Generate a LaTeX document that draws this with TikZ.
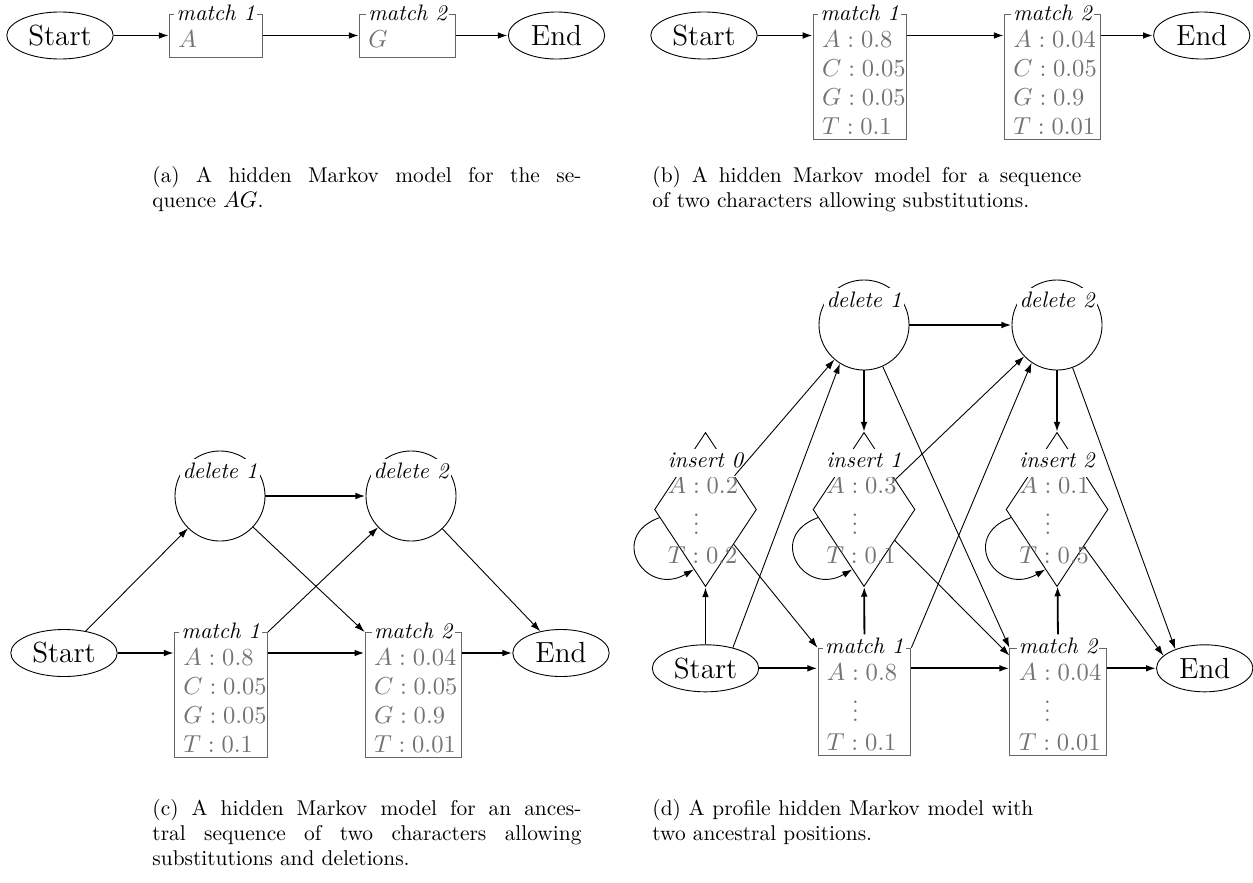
\documentclass[tikz,border=0pt]{standalone}
\usepackage{tikz}
\usetikzlibrary{shapes.geometric,arrows.meta}
\tikzset{
  >={Latex[length=4.5pt,width=3pt]},
  term/.style={ellipse, draw, font=\fontsize{13}{15}\selectfont, minimum height=21pt, inner sep=2pt},
  matchbox/.style={rectangle, draw=black!60, text=black!55, anchor=north west, align=left,
    text width=33.5pt, inner xsep=4pt, inner ysep=2pt, font=\fontsize{10.6}{13}\selectfont},
  delbox/.style={circle, draw, minimum size=40.2pt, inner sep=0pt},
  insbox/.style={diamond, draw, minimum width=45.5pt, minimum height=68.8pt, inner sep=0pt},
  lbl/.style={fill=white, inner xsep=1pt, inner ysep=1.5pt, font=\itshape},
  emit/.style={text=black!55, align=left, inner sep=0pt, anchor=north west,
    font=\fontsize{10.6}{13}\selectfont},
  capt/.style={anchor=north west, inner sep=0pt, text width=191.5pt, align=justify,
    font=\fontsize{9.55}{11.2}\selectfont},
  tr/.style={->},
  main/.style={->, thick},
}
\newcommand{\strt}{\rule{0pt}{12.6pt}}
\newcommand{\vd}{$\phantom{A}\mathrel{\vdots}$}
\begin{document}
\begin{tikzpicture}[x=0.4464pt, y=-0.4464pt]
  \useasboundingbox (0,0) rectangle (1253,882);
  %(a)
  \node[term, minimum width=47.5pt] (sa) at (60,35.5) {Start};
  \node[matchbox, text depth=2.5pt] (m1a) at (169,14) {\strt$A$};
  \node[matchbox, text depth=2.5pt, text width=35pt] (m2a) at (359,14) {\strt$G$};
  \node[term, minimum width=43pt] (ea) at (556.5,35.5) {End};
  \node[lbl, anchor=base] (l1a) at ([yshift=-2.7pt]m1a.north) {match 1};
  \node[lbl, anchor=base] (l2a) at ([yshift=-2.7pt]m2a.north) {match 2};
  \draw[main] (sa) -- (sa -| m1a.west);
  \draw[main] (m1a.east |- sa) -- (m2a.west |- sa);
  \draw[main] (m2a.east |- sa) -- (ea);
  \node[capt] (ca) at (152,166) {(a) A hidden Markov model for the se-\linebreak quence $AG$.};
  %(b)
  \node[term, minimum width=47.5pt] (sb) at (704,35.5) {Start};
  \node[matchbox] (m1b) at (812.8,14) {\strt${A:0.8}$\\${C:0.05}$\\${G:0.05}$\\${T:0.1}$};
  \node[matchbox, text width=35pt] (m2b) at (1004,14) {\strt${A:0.04}$\\${C:0.05}$\\${G:0.9}$\\${T:0.01}$};
  \node[term, minimum width=43pt] (eb) at (1201.7,35.5) {End};
  \node[lbl, anchor=base] (l1b) at ([yshift=-2.7pt]m1b.north) {match 1};
  \node[lbl, anchor=base] (l2b) at ([yshift=-2.7pt]m2b.north) {match 2};
  \draw[main] (sb) -- (sb -| m1b.west);
  \draw[main] (m1b.east |- sb) -- (m2b.west |- sb);
  \draw[main] (m2b.east |- sb) -- (eb);
  \node[capt] (cb) at (652,166) {(b) A hidden Markov model for a sequence\linebreak of two characters allowing substitutions.};
  %(c)
  \node[term, minimum width=47.5pt] (sc) at (64,653) {Start};
  \node[matchbox] (m1c) at (174,632) {\strt${A:0.8}$\\${C:0.05}$\\${G:0.05}$\\${T:0.1}$};
  \node[matchbox, text width=35pt] (m2c) at (364.6,632) {\strt${A:0.04}$\\${C:0.05}$\\${G:0.9}$\\${T:0.01}$};
  \node[term, minimum width=43pt] (ec) at (561,653) {End};
  \node[delbox] (d1c) at (220,496) {};
  \node[delbox] (d2c) at (411,496) {};
  \node[lbl, anchor=base] (l1c) at ([yshift=-2.7pt]m1c.north) {match 1};
  \node[lbl, anchor=base] (l2c) at ([yshift=-2.7pt]m2c.north) {match 2};
  \node[lbl, anchor=base] (k1c) at ([yshift=7.9pt]d1c.center) {delete 1};
  \node[lbl, anchor=base] (k2c) at ([yshift=7.9pt]d2c.center) {delete 2};
  \draw[main] (sc) -- (sc -| m1c.west);
  \draw[main] (m1c.east |- sc) -- (m2c.west |- sc);
  \draw[main] (m2c.east |- sc) -- (ec);
  \draw[main] (d1c) -- (d2c);
  \draw[tr] (sc) -- (d1c);
  \draw[tr] (d1c) -- (m2c.north west);
  \draw[tr] (m1c.north east) -- (d2c);
  \draw[tr] (d2c) -- (ec);
  \node[capt] (cc) at (152,798.5) {(c) A hidden Markov model for an ances-\linebreak tral sequence of two characters allowing\linebreak substitutions and deletions.};
  %(d)
  \node[term, minimum width=47.5pt] (sd) at (705.5,668.3) {Start};
  \node[matchbox] (m1d) at (817.5,647.7) {\strt${A:0.8}$\\[2pt]\vd\\${T:0.1}$};
  \node[matchbox, text width=35pt] (m2d) at (1009.4,647.7) {\strt${A:0.04}$\\[2pt]\vd\\${T:0.01}$};
  \node[term, minimum width=43pt] (ed) at (1204.7,668.3) {End};
  \node[delbox] (d1d) at (864,325) {};
  \node[delbox] (d2d) at (1057,325) {};
  \node[insbox] (i0) at (705.5,509.5) {};
  \node[insbox] (i1) at (864,509.5) {};
  \node[insbox] (i2) at (1057,509.5) {};
  \node[emit] (e0) at ([xshift=-17pt,yshift=14.8pt]i0.center) {${A:0.2}$\\[2pt]\vd\\${T:0.2}$};
  \node[emit] (e1) at ([xshift=-17pt,yshift=14.8pt]i1.center) {${A:0.3}$\\[2pt]\vd\\${T:0.1}$};
  \node[emit] (e2) at ([xshift=-17pt,yshift=14.8pt]i2.center) {${A:0.1}$\\[2pt]\vd\\${T:0.5}$};
  \node[lbl, anchor=base] (l1d) at ([yshift=-2.7pt]m1d.north) {match 1};
  \node[lbl, anchor=base] (l2d) at ([yshift=-2.7pt]m2d.north) {match 2};
  \node[lbl, anchor=base] (k1d) at ([yshift=7.9pt]d1d.center) {delete 1};
  \node[lbl, anchor=base] (k2d) at ([yshift=7.9pt]d2d.center) {delete 2};
  \node[lbl, anchor=base, text depth=3pt] (j0) at ([yshift=18.8pt]i0.center) {insert 0};
  \node[lbl, anchor=base, text depth=3pt] (j1) at ([yshift=18.8pt]i1.center) {insert 1};
  \node[lbl, anchor=base, text depth=3pt] (j2) at ([yshift=18.8pt]i2.center) {insert 2};
  %rows
  \draw[main] (sd) -- (sd -| m1d.west);
  \draw[main] (m1d.east |- sd) -- (m2d.west |- sd);
  \draw[main] (m2d.east |- sd) -- (ed);
  \draw[main] (d1d) -- (d2d);
  %up and down
  \draw[main] (sd) -- (i0);
  \draw[main] (l1d) -- (i1);
  \draw[main] (l2d) -- (i2);
  \draw[main] (d1d) -- (i1);
  \draw[main] (d2d) -- (i2);
  %loops
  \draw[tr] (i0.190) to[out=200, in=210, looseness=2.3] (i0.259);
  \draw[tr] (i1.190) to[out=200, in=210, looseness=2.3] (i1.259);
  \draw[tr] (i2.190) to[out=200, in=210, looseness=2.3] (i2.259);
  %diagonals
  \draw[tr] (sd.37) -- (d1d.238);
  \draw[tr] (i0) -- (d1d);
  \draw[tr] (i0) -- (m1d.north west);
  \draw[tr] (d1d) -- (m2d.north west);
  \draw[tr] (m1d.north east) -- (d2d.236);
  \draw[tr] (i1) -- (d2d);
  \draw[tr] (i1) -- ([yshift=-3.5pt]m2d.north west);
  \draw[tr] (d2d) -- (ed.147);
  \draw[tr] (i2) -- (ed.163);
  \node[capt, text width=170pt] (cd) at (652,798.5) {(d) A profile hidden Markov model with\linebreak two ancestral positions.};
\end{tikzpicture}
\end{document}
